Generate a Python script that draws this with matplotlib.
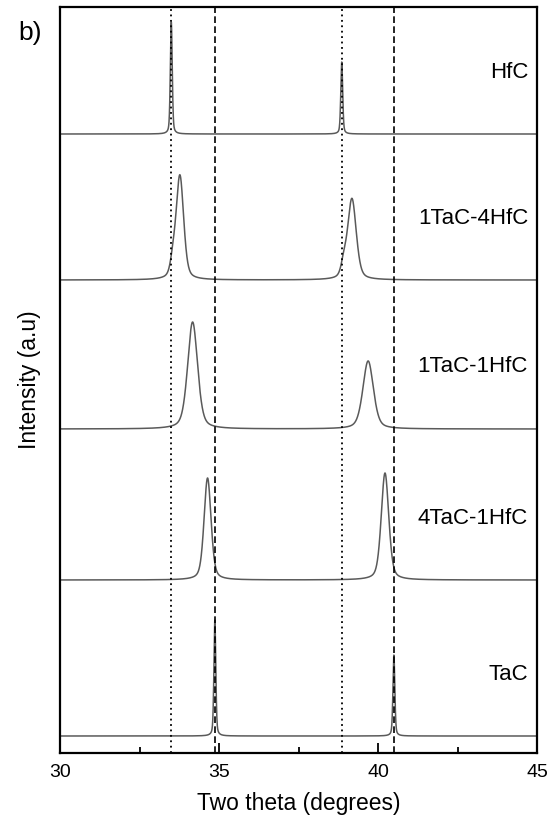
import numpy as np
import matplotlib
matplotlib.use("Agg")
import matplotlib.pyplot as plt

plt.rcParams['font.family'] = ['Liberation Sans', 'DejaVu Sans']

# XRD patterns, bottom to top
samples = ["TaC", "4TaC-1HfC", "1TaC-1HfC", "1TaC-4HfC", "HfC"]
offsets = [17, 173, 324, 473, 619]
peak_pos = [[34.87, 40.50], [34.64, 40.22], [34.17, 39.69], [33.77, 39.18], [33.50, 38.86]]
peak_height = [[116, 81], [102, 107], [107, 68], [104, 81], [112, 72]]
peak_fwhm = [[0.07, 0.07], [0.26, 0.28], [0.37, 0.39], [0.28, 0.32], [0.07, 0.07]]
# small HfC-like shoulders in 1TaC-4HfC
shoulder_pos = [33.55, 38.92]
shoulder_height = [14, 12]
shoulder_fwhm = [0.2, 0.2]

hfc_lines = [33.50, 38.86]
tac_lines = [34.87, 40.50]


def pvoigt(x, x0, h, w, eta=0.4):
    g = np.exp(-4 * np.log(2) * ((x - x0) / w) ** 2)
    l = 1 / (1 + 4 * ((x - x0) / w) ** 2)
    return h * (eta * l + (1 - eta) * g)


x = np.linspace(30, 45, 4000)

fig = plt.figure(figsize=(5.49, 8.21), dpi=100)
ax = fig.add_axes([60 / 549, 68 / 821, 477 / 549, 746 / 821])

for i, name in enumerate(samples):
    y = np.full_like(x, offsets[i], dtype=float)
    for p, h, w in zip(peak_pos[i], peak_height[i], peak_fwhm[i]):
        y += pvoigt(x, p, h, w)
    if name == "1TaC-4HfC":
        for p, h, w in zip(shoulder_pos, shoulder_height, shoulder_fwhm):
            y += pvoigt(x, p, h, w)
    ax.plot(x, y, color='#5a5a5a', lw=1.1)
    ax.text(44.72, offsets[i] + 62, name, ha='right', va='center', fontsize=16)

for v in hfc_lines:
    ax.axvline(v, color='black', lw=1.3, linestyle=(0, (1, 2)))
for v in tac_lines:
    ax.axvline(v, color='black', lw=1.2, linestyle=(0, (4, 2)))

ax.set_xlim(30, 45)
ax.set_ylim(0, 746)
ax.set_xticks([30, 35, 40, 45])
ax.set_xticks([32.5, 37.5, 42.5], minor=True)
ax.set_yticks([])
ax.tick_params(axis='x', which='major', direction='in', length=7, width=1.3,
               labelsize=14, pad=8)
ax.tick_params(axis='x', which='minor', direction='in', length=4, width=1.3)
for s in ax.spines.values():
    s.set_linewidth(1.6)

ax.set_xlabel("Two theta (degrees)", fontsize=16.5, labelpad=8)
ax.set_ylabel("Intensity (a.u)", fontsize=16.5, labelpad=14)

fig.text(18 / 549, 1 - 33 / 821, "b)", fontsize=19, va='center', ha='left')

fig.savefig("out.png", dpi=100)
